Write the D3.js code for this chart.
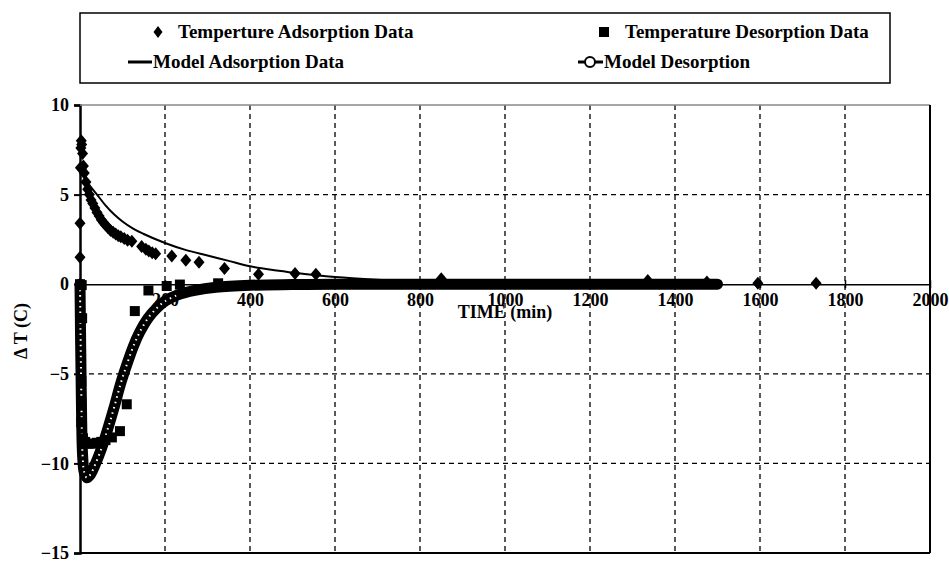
<!doctype html>
<html>
<head>
<meta charset="utf-8">
<script src="https://d3js.org/d3.v7.min.js"></script>
<style>
body { margin: 0; background: #fff; }
svg text { font-family: "Liberation Serif", "Times New Roman", serif; font-weight: bold; fill: #000; }
.grid line { stroke: #000; stroke-width: 1.3; stroke-dasharray: 5,4; }
</style>
</head>
<body>
<svg width="949" height="561"></svg>
<script>

// adsorption data (diamonds)
var adsTime = [0, 0, 0, 1, 2, 3, 4, 6, 8, 10, 14, 18, 22, 26, 30, 35, 40, 45, 50, 55, 60, 66, 72, 78, 84, 90, 96, 104, 112, 122,
               145, 155, 162, 170, 178, 216, 249, 280, 340, 420, 506, 555, 850, 1336, 1475, 1595, 1732];
var adsVal  = [0, 1.5, 3.4, 6.5, 7.6, 8.0, 7.8, 7.3, 6.6, 6.2, 5.7, 5.3, 5.0, 4.7, 4.5, 4.25, 4.0, 3.8, 3.6, 3.45, 3.3, 3.15, 3.0, 2.9, 2.8, 2.7, 2.65, 2.55, 2.45, 2.4,
               2.1, 1.95, 1.85, 1.75, 1.7, 1.57, 1.34, 1.23, 0.88, 0.55, 0.6, 0.56, 0.3, 0.2, 0.12, 0.05, 0.05];

// desorption data (squares)
var desTime = [0, 4, 5, 3, 3, 3, 7, 12, 20, 30, 40, 50, 60, 75, 94, 110, 129, 161, 204, 235, 325];
var desVal  = [0, -0.05, -1.9, -5.4, -6.6, -7.7, -8.6, -8.8, -8.9, -8.9, -8.85, -8.8, -8.7, -8.55, -8.2, -6.7, -1.5, -0.35, -0.1, -0.02, 0.05];

// model adsorption (line)
var madsTime = [0, 10, 20, 40, 60, 80, 100, 125, 150, 200, 250, 300, 350, 400, 450, 500, 600, 700, 800, 1000, 1500];
var madsVal  = [6.4, 6.0, 5.6, 5.0, 4.4, 3.9, 3.5, 3.1, 2.8, 2.3, 1.9, 1.6, 1.3, 1.0, 0.8, 0.65, 0.4, 0.25, 0.15, 0.05, 0.0];

// model desorption (line with circles)
var mdesTime = [0, 3, 6, 10, 16, 25, 35, 50, 65, 80, 95, 110, 125, 140, 160, 180, 200, 230, 270, 320, 400, 500, 600, 1000, 1500];
var mdesVal  = [0, -6, -9.5, -10.5, -10.8, -10.6, -10.1, -9.2, -8.1, -6.9, -5.6, -4.5, -3.5, -2.7, -1.9, -1.35, -0.95, -0.6, -0.35, -0.17, -0.06, -0.02, 0, 0, 0];

var xTicks = [200, 400, 600, 800, 1000, 1200, 1400, 1600, 1800, 2000];
var yTicks = [10, 5, 0, -5, -10, -15];

var svg = d3.select("svg");

var x = d3.scaleLinear().domain([0, 2000]).range([80, 930]),
    y = d3.scaleLinear().domain([-15, 10]).range([553, 105]);

function pts(t, v) { return t.map(function(d, i) { return [d, v[i]]; }); }

// legend box
svg.append("rect").attr("x", 80).attr("y", 13).attr("width", 810).attr("height", 70)
  .attr("fill", "none").attr("stroke", "#000").attr("stroke-width", 1.5);

// y axis
var yAxis = svg.append("g").attr("transform", "translate(" + x(0) + ",0)")
  .call(d3.axisLeft(y).tickValues(yTicks).tickSize(6).tickPadding(5));
yAxis.select(".domain").attr("stroke-width", 2.5);
yAxis.selectAll(".tick line").attr("stroke-width", 2);
yAxis.selectAll("text").style("font-size", "18px").style("font-family", "Liberation Serif").style("font-weight", "bold");

// x axis at zero
var xAxis = svg.append("g").attr("transform", "translate(0," + y(0) + ")")
  .call(d3.axisBottom(x).tickValues(xTicks).tickFormat(d3.format("d")).tickSizeInner(4).tickSizeOuter(0).tickPadding(5));
xAxis.select(".domain").attr("stroke-width", 1.5);
xAxis.selectAll(".tick line").attr("y1", -4).attr("stroke-width", 1.5);
xAxis.selectAll("text").style("font-size", "18px").style("font-family", "Liberation Serif").style("font-weight", "bold");

// grid (drawn over the tick labels, as in the original)
var grid = svg.append("g").attr("class", "grid");
grid.selectAll(".vg").data(xTicks.slice(0, -1)).enter().append("line")
  .attr("x1", function(d) { return x(d); }).attr("x2", function(d) { return x(d); })
  .attr("y1", y(10)).attr("y2", y(-15));
grid.selectAll(".hg").data([5, -5, -10]).enter().append("line")
  .attr("x1", x(0)).attr("x2", x(2000))
  .attr("y1", function(d) { return y(d); }).attr("y2", function(d) { return y(d); });

// frame
svg.append("line").attr("x1", x(0)).attr("x2", x(2000)).attr("y1", y(10)).attr("y2", y(10))
  .attr("stroke", "#888").attr("stroke-width", 1.5);
svg.append("line").attr("x1", x(2000)).attr("x2", x(2000)).attr("y1", y(10)).attr("y2", y(-15))
  .attr("stroke", "#000").attr("stroke-width", 2);
svg.append("line").attr("x1", x(0)).attr("x2", x(2000)).attr("y1", y(-15)).attr("y2", y(-15))
  .attr("stroke", "#000").attr("stroke-width", 2);

svg.append("text").attr("x", 505).attr("y", 318).attr("text-anchor", "middle")
  .style("font-size", "18px").text("TIME (min)");
svg.append("text").attr("transform", "translate(27,331) rotate(-90)").attr("text-anchor", "middle")
  .style("font-size", "18px").text("\u0394 T (C)");

var line = d3.line().x(function(d) { return x(d[0]); }).y(function(d) { return y(d[1]); })
  .curve(d3.curveMonotoneX);

// model desorption: dense circle markers drawn as a thick band
var mdes = pts(mdesTime, mdesVal);
var cr = d3.line().x(function(d) { return x(d[0]); }).y(function(d) { return y(d[1]); }).curve(d3.curveCatmullRom);
svg.append("path").datum(mdes).attr("d", cr)
  .attr("fill", "none").attr("stroke", "#000").attr("stroke-width", 11).attr("stroke-linecap", "round");
svg.append("path").datum(mdes.filter(function(d) { return d[0] <= 230; })).attr("d", cr)
  .attr("fill", "none").attr("stroke", "#fff").attr("stroke-width", 2).attr("stroke-dasharray", "1.5,4");

// model adsorption line
svg.append("path").datum(pts(madsTime, madsVal)).attr("d", line)
  .attr("fill", "none").attr("stroke", "#000").attr("stroke-width", 2);

// desorption squares
svg.selectAll(".sq").data(pts(desTime, desVal)).enter().append("rect")
  .attr("x", function(d) { return x(d[0]) - 5; }).attr("y", function(d) { return y(d[1]) - 5; })
  .attr("width", 10).attr("height", 10).attr("fill", "#000");

// adsorption diamonds
function diamond(cx, cy, w, h) {
  return "M" + cx + "," + (cy - h) + "L" + (cx + w) + "," + cy + "L" + cx + "," + (cy + h) + "L" + (cx - w) + "," + cy + "Z";
}
svg.selectAll(".dm").data(pts(adsTime, adsVal)).enter().append("path")
  .attr("d", function(d) { return diamond(x(d[0]), y(d[1]), 5.5, 6.5); })
  .attr("fill", "#000");

// legend entries
var lg = svg.append("g").style("font-size", "19px");
lg.append("path").attr("d", diamond(158, 32, 4.5, 6)).attr("fill", "#000");
lg.append("text").attr("x", 178).attr("y", 38).text("Temperture Adsorption Data");
lg.append("rect").attr("x", 599).attr("y", 27).attr("width", 10).attr("height", 10).attr("fill", "#000");
lg.append("text").attr("x", 625).attr("y", 38).text("Temperature Desorption Data");
lg.append("line").attr("x1", 128).attr("x2", 152).attr("y1", 62).attr("y2", 62).attr("stroke", "#000").attr("stroke-width", 3);
lg.append("text").attr("x", 153).attr("y", 68).text("Model Adsorption Data");
lg.append("line").attr("x1", 578).attr("x2", 603).attr("y1", 62).attr("y2", 62).attr("stroke", "#000").attr("stroke-width", 3);
lg.append("circle").attr("cx", 590).attr("cy", 62).attr("r", 5).attr("fill", "#fff").attr("stroke", "#000").attr("stroke-width", 2);
lg.append("text").attr("x", 604).attr("y", 68).text("Model Desorption");

</script>
</body>
</html>
